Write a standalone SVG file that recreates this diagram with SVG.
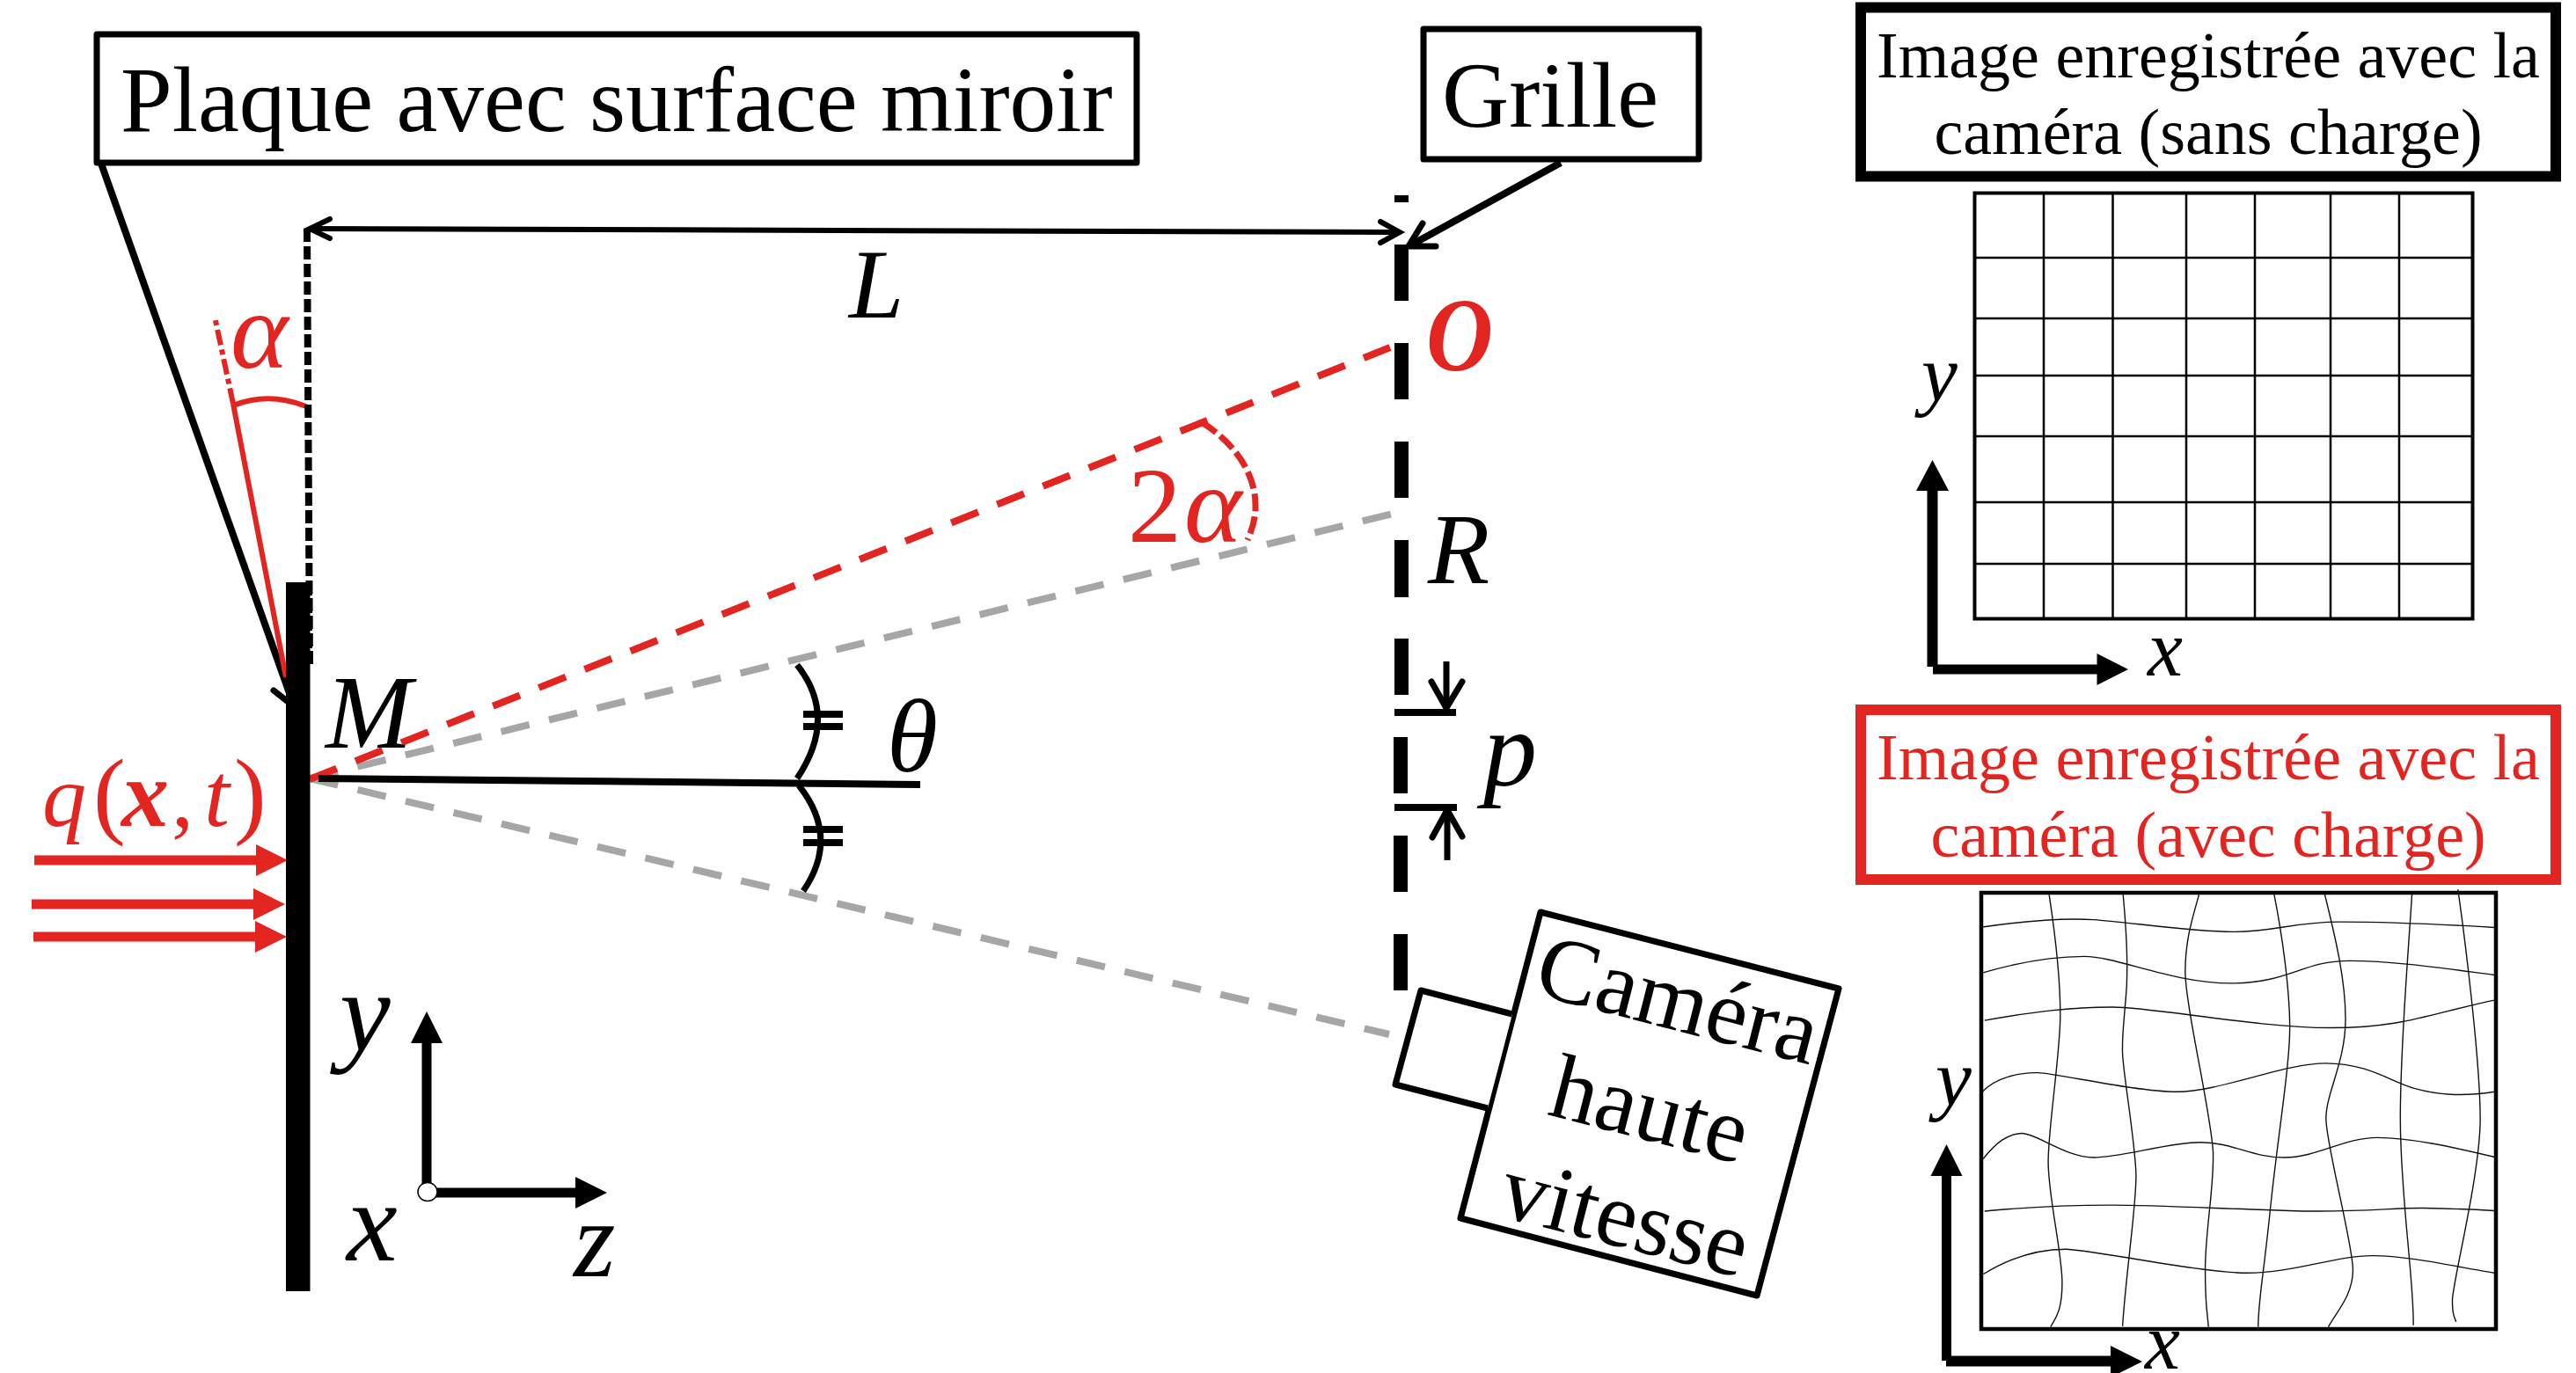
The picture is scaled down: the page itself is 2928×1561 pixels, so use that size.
<svg xmlns="http://www.w3.org/2000/svg" width="2928" height="1561" viewBox="0 0 2928 1561">
<defs>
<style>
text{font-family:"Liberation Serif","Times New Roman",serif;fill:#000}
.red{fill:#E32521}
.m{font-style:italic}
.t{font-size:105.500px}
.c{font-size:74px;text-anchor:middle}
.cam{font-size:105px;text-anchor:middle}
.l{fill:none;stroke:#000;stroke-linecap:butt}
.box{fill:#fff;stroke:#000;stroke-width:7;stroke-linejoin:round}
.rl{fill:none;stroke:#E32521}
.gray{fill:none;stroke:#A6A6A6;stroke-width:8;stroke-dasharray:33 23}
.open{fill:none;stroke:#000;stroke-linecap:round;stroke-linejoin:miter}
.g1{stroke:#000;stroke-width:2.500;fill:none}
.g2{stroke:#111;stroke-width:1.400;fill:none}
</style>
</defs>
<rect width="2928" height="1561" fill="#fff"/>
<g id="connectors">
<path class="gray" d="M352 885L1583 584"/>
<path class="gray" d="M352 885L1579 1176"/>
<path class="rl" stroke-width="8" stroke-dasharray="33 23.100" d="M352 886L1580 395"/>
<path class="l" stroke-width="8" d="M115 186L335 805"/>
<path class="open" stroke-width="7" d="M311 785L330 800"/>
<path class="rl" stroke-width="6" d="M325 770L265 459"/>
<path class="rl" stroke-width="6" stroke-dasharray="18 5 6 5" d="M265 459L244 360"/>
<path class="rl" stroke-width="6" d="M265 461Q305 445 348 462"/>
<path class="rl" stroke-width="7" stroke-dasharray="20 6" d="M1366 480C1405 505 1428 540 1427 577C1427 590 1423 602 1418 614"/>
<path class="l" stroke-width="6" d="M352 260L1590 264"/>
<path class="open" stroke-width="6" d="M375 249L352 260L375 271M1569 252L1591 264L1569 276"/>
<path class="l" stroke-width="8" stroke-dasharray="15 5" d="M349 260L352 755"/>
<path class="l" stroke-width="8" d="M1774 185L1603 279"/>
<path class="open" stroke-width="7" d="M1617 254L1601 280L1632 280"/>
<path class="l" stroke-width="8" d="M362 885L1046 892"/>
<path class="l" stroke-width="7" d="M906 756Q953 815 906 885M908 893Q955 952 913 1013"/>
<path class="l" stroke-width="8" d="M913 812H958M913 826H958M913 943H958M913 958H958"/>
<path class="l" stroke-width="8" d="M1585 810H1655M1585 918H1656"/>
<path class="l" stroke-width="7" d="M1644 752V802M1645 978V926"/>
<path class="open" stroke-width="7" d="M1627 775L1644 805L1662 775M1628 952L1645 921L1662 951"/>
</g>
<g id="heat-arrows" fill="#E32521">
<path d="M39 972.500H291V960L327 978L291 996V983.500H39Z"/>
<path d="M36 1022.500H288V1010L324 1028L288 1046V1033.500H36Z"/>
<path d="M38 1059.500H290V1047L326 1065L290 1083V1070.500H38Z"/>
</g>
<g id="plate"><rect x="325" y="662" width="27.500" height="806" fill="#000"/>
<path class="l" stroke-width="8" stroke-dasharray="15 5" stroke="#000" d="M351 662V755"/>
</g>
<g id="grid-bars" fill="#000">
<rect x="1585" y="222" width="16" height="8"/>
<rect x="1585" y="278" width="16" height="64"/>
<rect x="1585" y="390" width="16" height="64"/>
<rect x="1585" y="502" width="16" height="64"/>
<rect x="1585" y="614" width="16" height="65"/>
<rect x="1585" y="726" width="16" height="64"/>
<rect x="1584" y="838" width="16" height="64"/>
<rect x="1584" y="950" width="16" height="64"/>
<rect x="1584" y="1062" width="16" height="64"/>
</g>
<g id="plaque-label"><rect class="box" x="110" y="39" width="1182" height="146"/><text class="t" x="137" y="149">Plaque avec surface miroir</text></g>
<g id="grille-label"><rect class="box" x="1618" y="33" width="313" height="148"/><text class="t" x="1639" y="144">Grille</text></g>
<g id="math-labels">
<text class="m red" x="262" y="418" font-size="125">α</text>
<text class="m" x="965" y="361" font-size="112">L</text>
<text class="m" x="370" y="850" font-size="118">M</text>
<text class="m" x="1008" y="877" font-size="118">θ</text>
<text class="m red" x="1621" y="421" font-size="118" font-weight="bold" textLength="76" lengthAdjust="spacingAndGlyphs">O</text>
<text class="red" x="1282" y="616" font-size="122">2</text>
<text class="m red" x="1346" y="616" font-size="125">α</text>
<text class="m" x="1623" y="663" font-size="115">R</text>
<text class="m" x="1686" y="893" font-size="122">p</text>
<text class="m red" x="48" y="939" font-size="100">q</text>
<text class="red" x="106" y="939" font-size="110">(</text>
<text class="m red" x="138" y="939" font-size="108" font-weight="bold">x</text>
<text class="red" x="195" y="939" font-size="100">,</text>
<text class="m red" x="232" y="939" font-size="104">t</text>
<text class="red" x="266" y="939" font-size="110">)</text>
<text class="m" x="386" y="1194" font-size="130">y</text>
<text class="m" x="394" y="1433" font-size="130">x</text>
<text class="m" x="652" y="1451" font-size="122">z</text>
</g>
<g id="axes-main" fill="#000">
<path d="M479.500 1350V1186H467L485 1150L503 1186H490.500V1350Z"/>
<path d="M490 1350.500H654V1338L690 1356L654 1374V1361.500H490Z"/>
<ellipse cx="486" cy="1355" rx="11" ry="10.500" fill="#fff" stroke="#000" stroke-width="1.500"/>
</g>
<g id="camera">
<path class="box" stroke-linejoin="miter" d="M1751 1037L2090 1124L1997 1473L1660 1385Z"/>
<path class="box" stroke-linejoin="miter" d="M1719 1153L1615 1126L1586 1233L1691 1260"/>
<text class="cam" transform="translate(1899 1170) rotate(14.400)">Caméra</text>
<text class="cam" transform="translate(1867 1295) rotate(14.400)">haute</text>
<text class="cam" transform="translate(1839 1417) rotate(14.400)">vitesse</text>
</g>
<g id="panel-no-load">
<rect x="2115" y="8.500" width="790" height="192" fill="#fff" stroke="#000" stroke-width="12"/>
<text class="c" x="2510" y="88">Image enregistrée avec la</text>
<text class="c" x="2510" y="175">caméra (sans charge)</text>
<rect x="2244.500" y="219.500" width="566" height="484" fill="#fff" stroke="#000" stroke-width="4"/>
<path class="g1" d="M2323 218V704M2401.500 218V704M2485 218V704M2563 218V704M2649 218V704M2727 218V704M2243 293H2812M2243 362H2812M2243 427H2812M2243 496H2812M2243 571H2812M2243 641H2812"/>
<text class="m" x="2184" y="456" font-size="92">y</text>
<text class="m" x="2441" y="768" font-size="90">x</text>
<path d="M2190.500 758V558H2178L2196.500 523L2215 558H2202.500V758Z"/>
<path d="M2197 755.500H2383.500V743L2419 761L2383.500 779V766.500H2197Z"/>
</g>
<g id="panel-load">
<rect x="2115" y="807" width="790" height="193" fill="#fff" stroke="#E32521" stroke-width="12"/>
<text class="c red" x="2510" y="886">Image enregistrée avec la</text>
<text class="c red" x="2510" y="974">caméra (avec charge)</text>
<rect x="2252" y="1015" width="585" height="496" fill="#fff" stroke="#000" stroke-width="4.500"/>
<g transform="translate(2100 790) scale(.528 .4916)">
<path vector-effect="non-scaling-stroke" class="g2" d="M290 537C380 523 460 515 530 520S740 548 830 548S960 525 1060 525S1300 532 1393 538"/>
<path vector-effect="non-scaling-stroke" class="g2" d="M290 643C370 618 440 605 510 605S700 667 825 667S980 615 1080 615S1300 635 1393 648"/>
<path vector-effect="non-scaling-stroke" class="g2" d="M295 753C400 733 480 722 570 722S880 770 1040 770S1260 735 1393 706"/>
<path vector-effect="non-scaling-stroke" class="g2" d="M290 918C320 885 370 873 410 874S620 918 710 918S940 852 1030 852S1170 895 1220 910S1320 930 1393 918"/>
<path vector-effect="non-scaling-stroke" class="g2" d="M292 1073C320 1035 345 1015 375 1014S470 1070 530 1070S690 1035 760 1035S870 1070 940 1070S1070 1024 1140 1024S1300 1045 1393 1069"/>
<path vector-effect="non-scaling-stroke" class="g2" d="M295 1194C380 1185 480 1180 570 1180S800 1188 950 1193S1170 1186 1240 1187S1393 1193 1393 1193"/>
<path vector-effect="non-scaling-stroke" class="g2" d="M292 1340C360 1295 420 1282 470 1282S760 1337 860 1337S1050 1297 1130 1297S1320 1325 1393 1337"/>
<path vector-effect="non-scaling-stroke" class="g2" d="M434 462C445 540 458 650 458 740S432 1000 432 1080S462 1290 462 1360S445 1445 437 1462"/>
<path vector-effect="non-scaling-stroke" class="g2" d="M593 460C600 540 603 620 601 670S590 780 592 830S620 1040 621 1110S600 1330 592 1460"/>
<path vector-effect="non-scaling-stroke" class="g2" d="M757 460C745 510 727 560 727 640S785 980 787 1060S770 1240 770 1330S775 1430 777 1462"/>
<path vector-effect="non-scaling-stroke" class="g2" d="M918 460C935 550 952 680 952 770S925 1030 910 1190S884 1400 884 1462"/>
<path vector-effect="non-scaling-stroke" class="g2" d="M1027 460C1045 540 1072 650 1072 750S1030 920 1030 980S1088 1270 1088 1330S1050 1430 1035 1462"/>
<path vector-effect="non-scaling-stroke" class="g2" d="M1215 460C1210 560 1190 800 1190 980S1220 1360 1218 1458"/>
<path vector-effect="non-scaling-stroke" class="g2" d="M1314 450C1330 570 1362 850 1362 980S1302 1360 1302 1400S1306 1435 1310 1450"/>
</g>
<text class="m" x="2200" y="1257" font-size="92">y</text>
<text class="m" x="2438" y="1556" font-size="90">x</text>
<path d="M2207 1547V1337H2194.500L2212.500 1301L2230.500 1337H2218V1547Z"/>
<path d="M2212 1541.500H2399V1530L2435 1548L2399 1566V1553.500H2212Z"/>
</g>
</svg>
